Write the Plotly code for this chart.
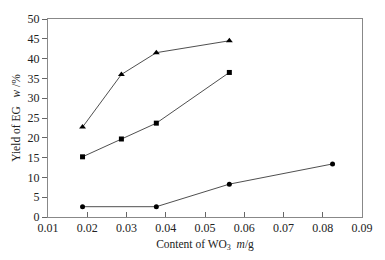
import plotly.graph_objects as go

x_tri = [0.0188, 0.0287, 0.0376, 0.0562]
y_tri = [22.7, 36.0, 41.5, 44.5]
x_sq = [0.0188, 0.0287, 0.0376, 0.0562]
y_sq = [15.2, 19.7, 23.7, 36.5]
x_ci = [0.0188, 0.0376, 0.0562, 0.0825]
y_ci = [2.6, 2.6, 8.3, 13.4]

x_ticks = [0.01, 0.02, 0.03, 0.04, 0.05, 0.06, 0.07, 0.08, 0.09]
y_ticks = [0, 5, 10, 15, 20, 25, 30, 35, 40, 45, 50]

FONT = "Liberation Serif"
line = dict(color="#222", width=0.8)

fig = go.Figure()
fig.add_trace(go.Scatter(x=x_tri, y=y_tri, mode="lines+markers", line=line,
                         marker=dict(symbol="triangle-up", size=6, color="black")))
fig.add_trace(go.Scatter(x=x_sq, y=y_sq, mode="lines+markers", line=line,
                         marker=dict(symbol="square", size=5, color="black")))
fig.add_trace(go.Scatter(x=x_ci, y=y_ci, mode="lines+markers", line=line,
                         marker=dict(symbol="circle", size=5, color="black")))

fig.update_layout(
    width=385, height=260,
    margin=dict(l=48, r=19, t=12, b=40),
    paper_bgcolor="white", plot_bgcolor="white",
    showlegend=False,
    font=dict(family=FONT, size=12, color="#222"),
    xaxis=dict(range=[0.01, 0.09], tickvals=x_ticks,
               ticktext=[f"{v:.2f}" for v in x_ticks],
               ticks="inside", ticklen=5, tickcolor="#666",
               showline=True, linecolor="#888", linewidth=1, mirror=True,
               showgrid=False, zeroline=False,
               tickfont=dict(family=FONT, size=12),
               title=dict(text="Content of WO<sub>3</sub>&nbsp;&nbsp;<i>m</i>/g",
                          font=dict(family=FONT, size=11.5), standoff=5)),
    yaxis=dict(range=[0, 50], tickvals=y_ticks,
               ticks="outside", ticklen=5, tickcolor="#666",
               showline=True, linecolor="#888", linewidth=1, mirror=True,
               showgrid=False, zeroline=False,
               tickfont=dict(family=FONT, size=12),
               title=dict(text="Yield of EG&nbsp;&nbsp;&nbsp;<i>w</i> /%",
                          font=dict(family=FONT, size=11.5), standoff=4)),
)

fig.write_html("out.html", config={"displayModeBar": False},
               post_script="document.body.style.margin='0';")
